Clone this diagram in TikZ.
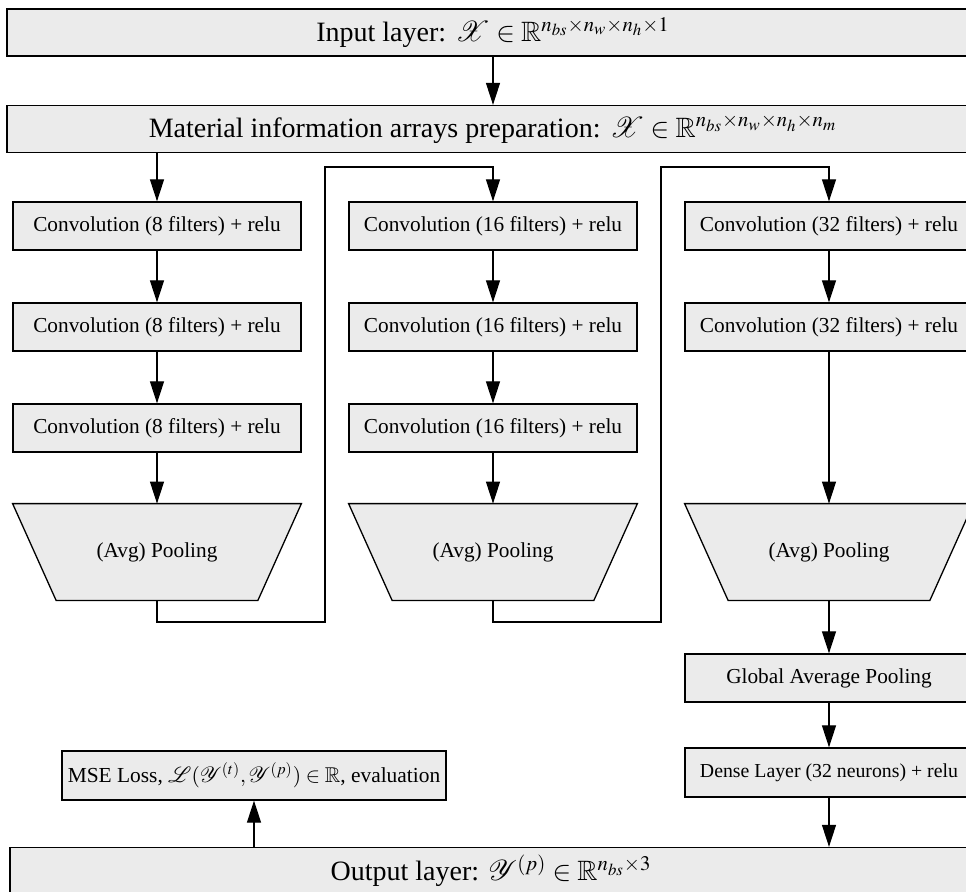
\documentclass[tikz,border=0pt]{standalone}
\usepackage{mathptmx}
\usepackage{amssymb}
\usepackage{mathrsfs}
\usepackage[no-math]{fontspec}
\setmainfont{Liberation Serif}
\usetikzlibrary{arrows.meta,backgrounds}
\newcommand{\bigtxt}{\fontsize{14pt}{16pt}\selectfont}
\newcommand{\midtxt}{\fontsize{10.65pt}{12pt}\selectfont}
\newcommand{\smalltxt}{\fontsize{9.9pt}{12pt}\selectfont}
\newcommand{\msetxt}{\fontsize{10.7pt}{12pt}\selectfont}
\tikzset{
  base/.style={draw, line width=0.65pt, fill=black!8, inner sep=0pt, align=center},
  bigbox/.style={base, minimum width=486pt, minimum height=23.5pt, font=\bigtxt},
  convbox/.style={base, minimum width=144pt, minimum height=24pt, font=\midtxt},
  densebox/.style={base, minimum width=144pt, minimum height=24.5pt, font=\smalltxt},
  msebox/.style={base, minimum width=192pt, minimum height=24.5pt, font=\msetxt},
  poolnode/.style={inner sep=0pt, minimum width=144pt, minimum height=48pt, font=\midtxt},
  trap/.style={draw, line width=0.65pt, fill=black!8},
  arr/.style={-{Triangle[length=11pt,width=7pt]}, line width=0.6pt},
  wire/.style={line width=0.6pt}
}
\begin{document}
\begin{tikzpicture}[x=0.5pt,y=-0.5pt]
\useasboundingbox (0,0) rectangle (966,891);
% top
\node[bigbox] (inp) at (493,32.5) {Input layer: $\mathscr{X}\in\mathbb{R}^{n_{bs}\times n_w\times n_h\times 1}$};
\node[bigbox] (mat) at (493,129) {Material information arrays preparation: $\mathscr{X}\in\mathbb{R}^{n_{bs}\times n_w\times n_h\times n_m}$};
% column 1
\node[convbox] (c1a) at (157,226) {Convolution (8 filters) + relu};
\node[convbox] (c1b) at (157,327) {Convolution (8 filters) + relu};
\node[convbox] (c1c) at (157,428) {Convolution (8 filters) + relu};
\node[poolnode] (p1) at (157,552) {(Avg) Pooling};
% column 2
\node[convbox] (c2a) at (493,226) {Convolution (16 filters) + relu};
\node[convbox] (c2b) at (493,327) {Convolution (16 filters) + relu};
\node[convbox] (c2c) at (493,428) {Convolution (16 filters) + relu};
\node[poolnode] (p2) at (493,552) {(Avg) Pooling};
% column 3
\node[convbox] (c3a) at (829,226) {Convolution (32 filters) + relu};
\node[convbox] (c3b) at (829,327) {Convolution (32 filters) + relu};
\node[poolnode] (p3) at (829,552) {(Avg) Pooling};
\node[convbox] (gap) at (829,678) {Global Average Pooling};
\node[densebox] (dense) at (829,772.5) {Dense Layer (32 neurons) + relu};
% bottom
\node[msebox] (mse) at (254,775.5) {MSE Loss, $\mathscr{L}(\mathscr{Y}^{(t)},\mathscr{Y}^{(p)})\in\mathbb{R}$, evaluation};
\node[bigbox, minimum width=481pt] (out) at (491,871) {Output layer: $\mathscr{Y}^{(p)}\in\mathbb{R}^{n_{bs}\times 3}$};
% trapezia
\begin{scope}[on background layer]
\foreach \p in {p1,p2,p3}
  \filldraw[trap] (\p.north west) -- (\p.north east) -- ([xshift=-21.75pt]\p.south east) -- ([xshift=21.75pt]\p.south west) -- cycle;
\end{scope}
% routing coordinates
\coordinate (r1) at (325,622);
\coordinate (t1) at (325,167);
\coordinate (r2) at (661,622);
\coordinate (t2) at (661,167);
% connectors
\draw[arr] (inp.south) -- (mat.north);
\draw[arr] (mat.south -| c1a.north) -- (c1a.north);
\draw[arr] (c1a.south) -- (c1b.north);
\draw[arr] (c1b.south) -- (c1c.north);
\draw[arr] (c1c.south) -- (p1.north);
\draw[arr] (p1.south) -- (p1.south |- r1) -- (r1) -- (t1) -- (t1 -| c2a.north) -- (c2a.north);
\draw[arr] (c2a.south) -- (c2b.north);
\draw[arr] (c2b.south) -- (c2c.north);
\draw[arr] (c2c.south) -- (p2.north);
\draw[arr] (p2.south) -- (p2.south |- r2) -- (r2) -- (t2) -- (t2 -| c3a.north) -- (c3a.north);
\draw[arr] (c3a.south) -- (c3b.north);
\draw[arr] (c3b.south) -- (p3.north);
\draw[arr] (p3.south) -- (gap.north);
\draw[arr] (gap.south) -- (dense.north);
\draw[arr] (dense.south) -- (dense.south |- out.north);
\draw[arr] (mse.south |- out.north) -- (mse.south);
\end{tikzpicture}
\end{document}
